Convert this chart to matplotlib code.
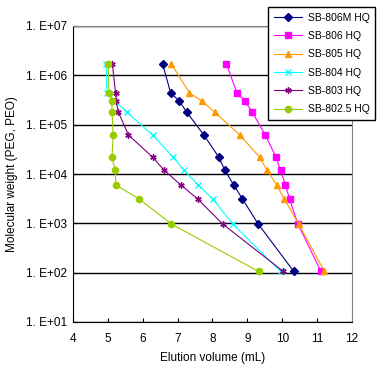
import numpy as np
import matplotlib
matplotlib.use("Agg")
import matplotlib.pyplot as plt
from matplotlib.ticker import FixedLocator, NullLocator

plt.rcParams['font.family'] = ['Liberation Sans', 'DejaVu Sans']

# molecular weights of the standards (PEG, PEO)
mw_full = [1.7e6, 4.4e5, 3.0e5, 1.8e5, 6.2e4, 2.2e4, 1.2e4, 6.0e3, 3.1e3, 9.7e2, 1.06e2]
mw_804 = [1.7e6, 4.4e5, 1.8e5, 6.2e4, 2.2e4, 1.2e4, 6.0e3, 3.1e3, 9.7e2, 1.06e2]

ve_806m = [6.57, 6.80, 7.05, 7.26, 7.75, 8.18, 8.35, 8.61, 8.86, 9.31, 10.33]
ve_806 = [8.40, 8.70, 8.93, 9.14, 9.51, 9.82, 9.95, 10.09, 10.21, 10.45, 11.11]
ve_805 = [6.82, 7.34, 7.70, 8.06, 8.78, 9.35, 9.56, 9.84, 10.06, 10.47, 11.21]
ve_804 = [4.95, 4.97, 5.54, 6.28, 6.87, 7.18, 7.59, 8.01, 8.58, 9.95]
ve_803 = [5.13, 5.22, 5.24, 5.30, 5.59, 6.28, 6.61, 7.09, 7.58, 8.29, 10.03]
ve_8025 = [5.01, 5.03, 5.11, 5.12, 5.15, 5.12, 5.21, 5.23, 5.90, 6.82, 9.32]

series = [
    ('SB-806M HQ', ve_806m, mw_full, '#000080', 'D', 4),
    ('SB-806 HQ', ve_806, mw_full, '#FF00FF', 's', 4.2),
    ('SB-805 HQ', ve_805, mw_full, '#FF9900', '^', 5),
    ('SB-804 HQ', ve_804, mw_804, '#00FFFF', 'x', 4),
    ('SB-803 HQ', ve_803, mw_full, '#800080', (6, 2, 0), 4.5),
    ('SB-802.5 HQ', ve_8025, mw_full, '#99CC00', 'o', 4.5),
]

x_ticks = [4, 5, 6, 7, 8, 9, 10, 11, 12]
y_ticks = [1e1, 1e2, 1e3, 1e4, 1e5, 1e6, 1e7]
y_labels = ['1. E+01', '1. E+02', '1. E+03', '1. E+04', '1. E+05', '1. E+06', '1. E+07']

fig = plt.figure(figsize=(3.87, 3.77), dpi=100)
ax = fig.add_axes([73 / 387, 1 - 322 / 377, 279 / 387, 296 / 377])

for name, ve, mw, col, mk, ms in series:
    ax.plot(ve, mw, color=col, marker=mk, markersize=ms, linewidth=0.8,
            markeredgecolor=col, markerfacecolor=col, markeredgewidth=1.0,
            label=name)

ax.set_yscale('log')
ax.set_xlim(4, 12)
ax.set_ylim(1e1, 1e7)
ax.xaxis.set_major_locator(FixedLocator(x_ticks))
ax.yaxis.set_major_locator(FixedLocator(y_ticks))
ax.yaxis.set_minor_locator(NullLocator())
ax.set_yticklabels(y_labels)
ax.tick_params(direction='in', length=3, labelsize=8.5, width=0.8)
ax.tick_params(axis='x', pad=8)
ax.tick_params(axis='y', pad=4)
ax.grid(axis='y', color='black', linewidth=1.0)
ax.set_axisbelow(True)

for s in ['top', 'right']:
    ax.spines[s].set_color('#808080')
for s in ['left', 'bottom']:
    ax.spines[s].set_color('black')

ax.set_xlabel('Elution volume (mL)', fontsize=8.5, labelpad=5)
ax.set_ylabel('Molecular weight (PEG, PEO)', fontsize=8.5, labelpad=6)

leg = ax.legend(loc='upper left', bbox_to_anchor=(268 / 387, 1 - 7 / 377),
                bbox_transform=fig.transFigure, fontsize=7.5, frameon=True,
                fancybox=False, edgecolor='black', framealpha=1,
                handlelength=2.7, labelspacing=0.8, borderpad=0.55,
                handletextpad=0.55, borderaxespad=0)
leg.get_frame().set_linewidth(1.0)

fig.savefig('out.png', dpi=100)
